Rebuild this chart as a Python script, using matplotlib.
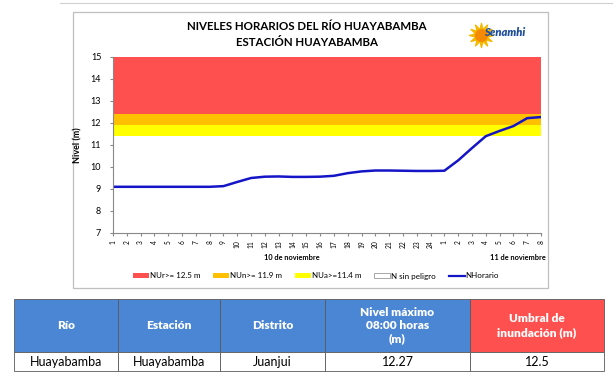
import matplotlib.pyplot as plt
import numpy as np
from matplotlib.patches import Rectangle, Patch
from matplotlib.lines import Line2D

plt.rcParams['font.family'] = ['Lato', 'DejaVu Sans']

# --- data ---
hours = [str(h) for h in range(1, 25)] + [str(h) for h in range(1, 9)]
nivel = [9.10, 9.10, 9.10, 9.10, 9.10, 9.10, 9.10, 9.10,
         9.13, 9.32, 9.50, 9.56, 9.57, 9.55, 9.55, 9.56,
         9.60, 9.72, 9.80, 9.84, 9.84, 9.83, 9.82, 9.82,
         9.83, 10.30, 10.86, 11.40, 11.64, 11.86, 12.22, 12.27]
band_low = [11.4, 11.9, 12.4]
band_top = 15.0
band_colors = ['#FFFF00', '#FFC000', '#FF5050']
legend_labels = ['NUr>= 12.5 m', 'NUn>= 11.9 m', 'NUa>=11.4 m', 'N sin peligro', 'NHorario']
day_labels = ['10 de noviembre', '11 de noviembre']

table_header = ['Río', 'Estación', 'Distrito', 'Nivel máximo\n08:00 horas\n(m)', 'Umbral de\ninundación (m)']
table_row = ['Huayabamba', 'Huayabamba', 'Juanjui', '12.27', '12.5']

W, H = 616, 387
fig = plt.figure(figsize=(W / 100, H / 100), dpi=100)

# overlay axes in pixel coordinates for frame, titles and table
bg = fig.add_axes([0, 0, 1, 1])
bg.set_xlim(0, W)
bg.set_ylim(H, 0)
bg.axis('off')

bg.plot([60, 612], [3, 3], color='#d0d0d0', lw=0.8)
bg.add_patch(Rectangle((73, 12), 475, 276, fill=False, edgecolor='#bfbfbf', lw=0.9))

bg.text(307, 27, 'NIVELES HORARIOS DEL RÍO HUAYABAMBA', ha='center', va='center',
        fontsize=8.3, fontweight='bold')
bg.text(307, 42, 'ESTACIÓN HUAYABAMBA', ha='center', va='center',
        fontsize=8.3, fontweight='bold')

# simple senamhi mark
bg.scatter([481], [35], s=300, marker=(12, 1, 0), color='#F5B800', zorder=3)
bg.scatter([481], [35], s=70, marker='o', color='#F58A00', zorder=3)
bg.text(505, 33, 'Senamhi', ha='center', va='center', fontsize=8, fontweight='heavy',
        style='italic', color='#1F4E9C', zorder=4)

# --- chart ---
x0, x1, yt, yb = 113, 541, 57, 233
ax = fig.add_axes([x0 / W, 1 - yb / H, (x1 - x0) / W, (yb - yt) / H])
xs = np.arange(len(hours))
lows = band_low
highs = band_low[1:] + [band_top]
for lo, hi, c in zip(lows, highs, band_colors):
    ax.fill_between([xs[0], xs[-1]], lo, hi, color=c, lw=0)
ax.plot(xs, nivel, color='#1515C8', lw=1.8)

ax.set_xlim(xs[0], xs[-1])
ax.set_ylim(7, 15)
ax.set_yticks(range(7, 16))
ax.tick_params(axis='y', labelsize=6.5, length=2.5, color='#888888', pad=6)
ax.set_xticks(xs)
ax.set_xticklabels(hours, rotation=90, fontsize=4.8)
ax.tick_params(axis='x', length=2, color='#888888', pad=3)
for s in ['top', 'right']:
    ax.spines[s].set_visible(False)
for s in ['left', 'bottom']:
    ax.spines[s].set_color('#888888')
    ax.spines[s].set_linewidth(0.8)
ax.set_ylabel('Nivel (m)', fontsize=6.5, fontweight='bold', labelpad=6)

bg.text(292, 258, day_labels[0], ha='center', va='center', fontsize=5.3, fontweight='bold')
bg.text(546, 258, day_labels[1], ha='right', va='center', fontsize=5.3, fontweight='bold')

handles = [Patch(facecolor=band_colors[2]), Patch(facecolor=band_colors[1]),
           Patch(facecolor=band_colors[0]),
           Patch(facecolor='white', edgecolor='#999999', lw=0.6),
           Line2D([0], [0], color='#1515C8', lw=1.6)]
fig.legend(handles, legend_labels, loc='center', bbox_to_anchor=(316 / W, 1 - 276 / H),
           ncol=5, frameon=False, fontsize=5.8, handlelength=2.0, handleheight=0.6,
           columnspacing=1.6, handletextpad=0.1)

# --- table ---
col_edges = [14, 118, 220, 325, 470, 604]
ty0, ty1, ty2 = 299, 352, 371
head_colors = ['#4A86D4'] * 4 + ['#FF5050']
for i in range(len(table_header)):
    xa, xb = col_edges[i], col_edges[i + 1]
    bg.add_patch(Rectangle((xa, ty0), xb - xa, ty1 - ty0, facecolor=head_colors[i],
                           edgecolor='#5a5a5a', lw=0.6))
    bg.add_patch(Rectangle((xa, ty1), xb - xa, ty2 - ty1, facecolor='white',
                           edgecolor='#5a5a5a', lw=0.6))
    bg.text((xa + xb) / 2, (ty0 + ty1) / 2, table_header[i], ha='center', va='center',
            color='white', fontsize=8.6, fontweight='heavy', linespacing=1.25)
    bg.text((xa + xb) / 2, (ty1 + ty2) / 2, table_row[i], ha='center', va='center',
            color='black', fontsize=9)

fig.savefig('out.png', dpi=100)
